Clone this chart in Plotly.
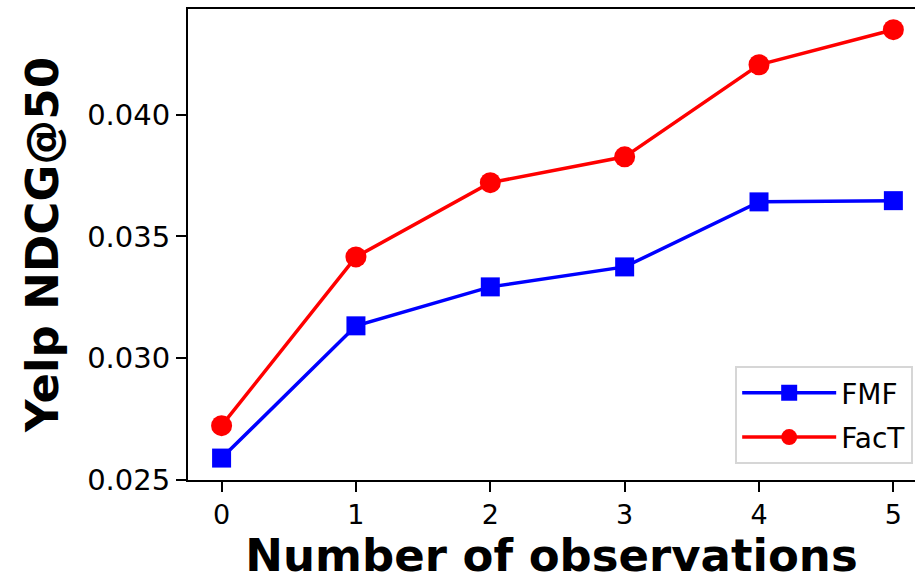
import plotly.graph_objects as go

observations = [0, 1, 2, 3, 4, 5]
fmf = [0.0259, 0.03133, 0.03293, 0.03375, 0.03642, 0.03647]
fact = [0.02723, 0.03416, 0.03721, 0.03827, 0.04205, 0.04349]
y_ticks = [0.025, 0.030, 0.035, 0.040]
y_tick_labels = ["0.025", "0.030", "0.035", "0.040"]

fig = go.Figure()
fig.add_trace(go.Scatter(x=observations, y=fmf, name="FMF", mode="lines+markers",
                         legendgroup="fmf",
                         line=dict(color="#0000ff", width=3.5),
                         marker=dict(symbol="square", size=19, color="#0000ff")))
fig.add_trace(go.Scatter(x=observations, y=fact, name="FacT", mode="lines+markers",
                         legendgroup="fact",
                         line=dict(color="#ff0000", width=3.5),
                         marker=dict(symbol="circle", size=21, color="#ff0000")))

fig.update_layout(
    width=915, height=582,
    margin=dict(l=188, r=0, t=9, b=102),
    paper_bgcolor="white", plot_bgcolor="white",
    font=dict(family="DejaVu Sans", color="black"),
    showlegend=True,
    legend=dict(x=0.9975, y=0.034, xanchor="right", yanchor="bottom",
                bgcolor="white", bordercolor="#d6d6d6", borderwidth=2,
                font=dict(size=28, family="DejaVu Sans"),
                traceorder="grouped", tracegroupgap=5, itemwidth=94),
    xaxis=dict(range=[-0.25, 5.161], tickvals=observations,
               ticks="outside", ticklen=10, tickwidth=2, tickcolor="black",
               showline=True, linecolor="black", linewidth=2, mirror=True,
               showgrid=False, zeroline=False,
               tickfont=dict(size=27),
               title=dict(text="<b>Number of observations</b>", font=dict(size=45), standoff=9)),
    yaxis=dict(range=[0.025, 0.04434], tickvals=y_ticks, ticktext=y_tick_labels,
               ticks="outside", ticklen=10, tickwidth=2, tickcolor="black",
               showline=True, linecolor="black", linewidth=2, mirror=False,
               showgrid=False, zeroline=False,
               tickfont=dict(size=29),
               title=dict(text="<b>Yelp NDCG@50</b>", font=dict(size=45), standoff=14)),
)

fig.write_html("out.html", config={"displayModeBar": False},
               post_script="document.body.style.margin='0';")
